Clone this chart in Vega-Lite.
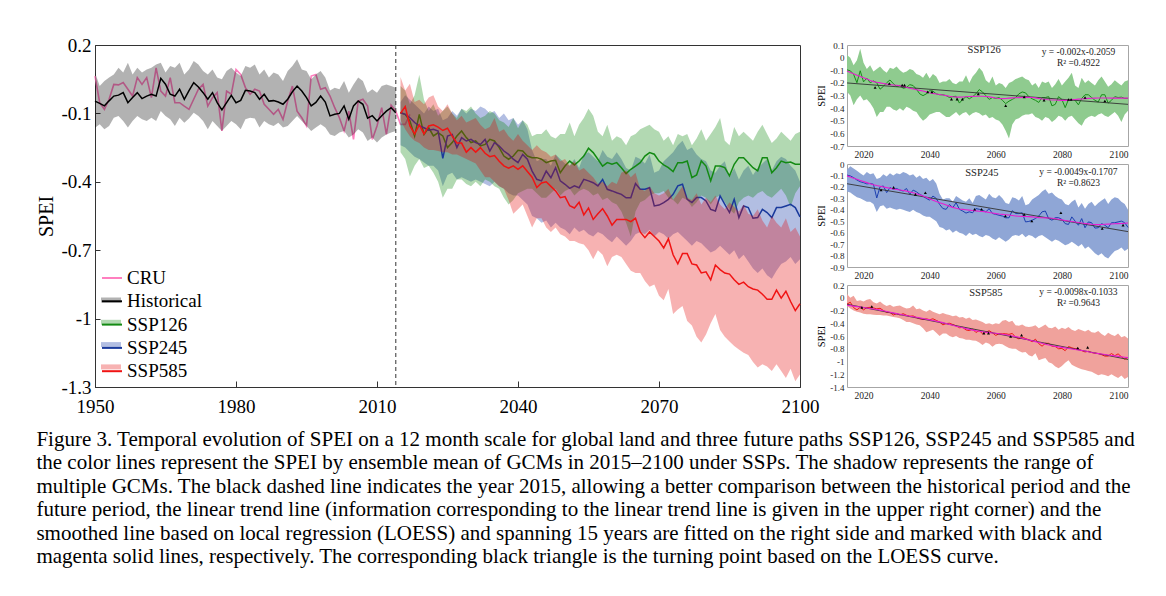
{
"$schema": "https://vega.github.io/schema/vega-lite/v6.json",
"background": "white",
"padding": {"left": 36, "top": 35, "right": 5, "bottom": 5},
"bounds": "flush",
"spacing": 47,
"config": {"font": "Liberation Serif", "axis": {"grid": false, "labelFont": "Liberation Serif", "titleFont": "Liberation Serif", "labelColor": "#000", "titleColor": "#000", "titleFontWeight": "normal", "domainColor": "#333", "tickColor": "#333", "labelOverlap": false}, "legend": {"labelFont": "Liberation Serif", "titleFont": "Liberation Serif"}},
"title": {"text": ["Figure 3. Temporal evolution of SPEI on a 12 month scale for global land and three future paths SSP126, SSP245 and SSP585 and", "the color lines represent the SPEI by ensemble mean of GCMs in 2015–2100 under SSPs. The shadow represents the range of", "multiple GCMs. The black dashed line indicates the year 2015, allowing a better comparison between the historical period and the", "future period, the linear trend line (information corresponding to the linear trend line is given in the upper right corner) and the", "smoothed line based on local regression (LOESS) and spanning 15 years are fitted on the right side and marked with black and", "magenta solid lines, respectively. The corresponding black triangle is the turning point based on the LOESS curve."], "orient": "bottom", "anchor": "start", "font": "Liberation Serif", "fontSize": 21, "fontWeight": "normal", "lineHeight": 23.5, "offset": 12, "color": "#000"},
"datasets": {
"hist": [
{"year":1950,"mean":-0.046,"lo":-0.163,"hi":0.079},{"year":1951,"mean":-0.056,"lo":-0.148,"hi":0.02},{"year":1952,"mean":-0.067,"lo":-0.17,"hi":0.042},{"year":1953,"mean":-0.045,"lo":-0.155,"hi":0.057},{"year":1954,"mean":-0.024,"lo":-0.119,"hi":0.071},{"year":1955,"mean":-0.02,"lo":-0.111,"hi":0.1},{"year":1956,"mean":-0.009,"lo":-0.133,"hi":0.079},{"year":1957,"mean":-0.053,"lo":-0.162,"hi":0.122},{"year":1958,"mean":-0.03,"lo":-0.133,"hi":0.071},{"year":1959,"mean":-0.009,"lo":-0.111,"hi":0.1},
{"year":1960,"mean":-0.035,"lo":-0.126,"hi":0.079},{"year":1961,"mean":-0.024,"lo":-0.133,"hi":0.093},{"year":1962,"mean":-0.016,"lo":-0.119,"hi":0.1},{"year":1963,"mean":-0.024,"lo":-0.133,"hi":0.115},{"year":1964,"mean":0.054,"lo":-0.09,"hi":0.122},{"year":1965,"mean":0.028,"lo":-0.111,"hi":0.079},{"year":1966,"mean":-0.016,"lo":-0.126,"hi":0.108},{"year":1967,"mean":-0.024,"lo":-0.155,"hi":0.1},{"year":1968,"mean":0.006,"lo":-0.119,"hi":0.122},{"year":1969,"mean":-0.038,"lo":-0.141,"hi":0.071},
{"year":1970,"mean":0.0,"lo":-0.122,"hi":0.093},{"year":1971,"mean":0.035,"lo":-0.097,"hi":0.13},{"year":1972,"mean":0.016,"lo":-0.111,"hi":0.115},{"year":1973,"mean":-0.009,"lo":-0.133,"hi":0.086},{"year":1974,"mean":-0.038,"lo":-0.17,"hi":0.071},{"year":1975,"mean":-0.009,"lo":-0.133,"hi":0.093},{"year":1976,"mean":-0.053,"lo":-0.155,"hi":0.057},{"year":1977,"mean":-0.085,"lo":-0.177,"hi":0.05},{"year":1978,"mean":-0.053,"lo":-0.155,"hi":0.086},{"year":1979,"mean":-0.021,"lo":-0.133,"hi":0.1},
{"year":1980,"mean":-0.053,"lo":-0.148,"hi":0.079},{"year":1981,"mean":-0.043,"lo":-0.17,"hi":0.064},{"year":1982,"mean":0.001,"lo":-0.126,"hi":0.108},{"year":1983,"mean":-0.002,"lo":-0.119,"hi":0.1},{"year":1984,"mean":-0.009,"lo":-0.122,"hi":0.115},{"year":1985,"mean":-0.038,"lo":-0.162,"hi":0.071},{"year":1986,"mean":-0.016,"lo":-0.133,"hi":0.093},{"year":1987,"mean":-0.046,"lo":-0.148,"hi":0.057},{"year":1988,"mean":-0.044,"lo":-0.155,"hi":0.079},{"year":1989,"mean":-0.05,"lo":-0.141,"hi":0.071},
{"year":1990,"mean":-0.06,"lo":-0.162,"hi":0.042},{"year":1991,"mean":-0.038,"lo":-0.155,"hi":0.086},{"year":1992,"mean":-0.005,"lo":-0.133,"hi":0.108},{"year":1993,"mean":0.02,"lo":-0.111,"hi":0.137},{"year":1994,"mean":-0.002,"lo":-0.133,"hi":0.093},{"year":1995,"mean":-0.031,"lo":-0.155,"hi":0.086},{"year":1996,"mean":-0.067,"lo":-0.177,"hi":0.05},{"year":1997,"mean":-0.052,"lo":-0.162,"hi":0.071},{"year":1998,"mean":-0.024,"lo":-0.148,"hi":0.086},{"year":1999,"mean":-0.05,"lo":-0.162,"hi":0.057},
{"year":2000,"mean":-0.111,"lo":-0.192,"hi":0.0},{"year":2001,"mean":-0.104,"lo":-0.199,"hi":0.013},{"year":2002,"mean":-0.1,"lo":-0.184,"hi":0.006},{"year":2003,"mean":-0.067,"lo":-0.177,"hi":0.042},{"year":2004,"mean":-0.126,"lo":-0.206,"hi":-0.009},{"year":2005,"mean":-0.067,"lo":-0.192,"hi":0.027},{"year":2006,"mean":-0.046,"lo":-0.17,"hi":0.057},{"year":2007,"mean":-0.06,"lo":-0.184,"hi":0.042},{"year":2008,"mean":-0.121,"lo":-0.221,"hi":-0.009},{"year":2009,"mean":-0.11,"lo":-0.206,"hi":0.006},
{"year":2010,"mean":-0.133,"lo":-0.228,"hi":-0.009},{"year":2011,"mean":-0.11,"lo":-0.206,"hi":0.02},{"year":2012,"mean":-0.09,"lo":-0.192,"hi":0.027},{"year":2013,"mean":-0.075,"lo":-0.184,"hi":0.02},{"year":2014,"mean":-0.097,"lo":-0.177,"hi":0.013}
],
"cru": [
{"year":1950,"spei":0.064},{"year":1951,"spei":-0.053},{"year":1952,"spei":-0.082},{"year":1953,"spei":-0.038},{"year":1954,"spei":0.027},{"year":1955,"spei":0.025},{"year":1956,"spei":0.035},{"year":1957,"spei":0.006},{"year":1958,"spei":-0.024},{"year":1959,"spei":0.057},
{"year":1960,"spei":0.027},{"year":1961,"spei":0.057},{"year":1962,"spei":-0.031},{"year":1963,"spei":0.1},{"year":1964,"spei":-0.002},{"year":1965,"spei":-0.024},{"year":1966,"spei":0.057},{"year":1967,"spei":-0.053},{"year":1968,"spei":-0.053},{"year":1969,"spei":-0.068},
{"year":1970,"spei":-0.082},{"year":1971,"spei":-0.038},{"year":1972,"spei":0.006},{"year":1973,"spei":0.027},{"year":1974,"spei":-0.068},{"year":1975,"spei":-0.031},{"year":1976,"spei":-0.009},{"year":1977,"spei":-0.177},{"year":1978,"spei":-0.002},{"year":1979,"spei":-0.016},
{"year":1980,"spei":0.093},{"year":1981,"spei":0.071},{"year":1982,"spei":0.013},{"year":1983,"spei":-0.016},{"year":1984,"spei":0.006},{"year":1985,"spei":-0.002},{"year":1986,"spei":-0.06},{"year":1987,"spei":-0.082},{"year":1988,"spei":-0.104},{"year":1989,"spei":-0.082},
{"year":1990,"spei":-0.126},{"year":1991,"spei":-0.046},{"year":1992,"spei":0.02},{"year":1993,"spei":-0.09},{"year":1994,"spei":-0.119},{"year":1995,"spei":-0.155},{"year":1996,"spei":0.064},{"year":1997,"spei":0.071},{"year":1998,"spei":0.006},{"year":1999,"spei":0.013},
{"year":2000,"spei":-0.024},{"year":2001,"spei":-0.075},{"year":2002,"spei":-0.119},{"year":2003,"spei":-0.177},{"year":2004,"spei":-0.09},{"year":2005,"spei":-0.214},{"year":2006,"spei":-0.046},{"year":2007,"spei":-0.038},{"year":2008,"spei":-0.068},{"year":2009,"spei":-0.214},
{"year":2010,"spei":-0.155},{"year":2011,"spei":-0.075},{"year":2012,"spei":-0.192},{"year":2013,"spei":-0.064},{"year":2014,"spei":-0.09},{"year":2015,"spei":-0.148},{"year":2016,"spei":-0.148},{"year":2017,"spei":-0.104}
],
"ssp": [
{"series":"SSP126","year":2015,"mean":-0.097,"lo":-0.27,"hi":0.02},{"series":"SSP126","year":2016,"mean":-0.104,"lo":-0.3,"hi":0.0},{"series":"SSP126","year":2017,"mean":-0.133,"lo":-0.377,"hi":-0.06},{"series":"SSP126","year":2018,"mean":-0.199,"lo":-0.33,"hi":-0.02},{"series":"SSP126","year":2019,"mean":-0.104,"lo":-0.3,"hi":0.07},{"series":"SSP126","year":2020,"mean":-0.192,"lo":-0.34,"hi":-0.04},{"series":"SSP126","year":2021,"mean":-0.163,"lo":-0.33,"hi":-0.09},{"series":"SSP126","year":2022,"mean":-0.199,"lo":-0.36,"hi":-0.06},{"series":"SSP126","year":2023,"mean":-0.185,"lo":-0.4,"hi":-0.11},{"series":"SSP126","year":2024,"mean":-0.199,"lo":-0.47,"hi":-0.09},
{"series":"SSP126","year":2025,"mean":-0.25,"lo":-0.43,"hi":-0.07},{"series":"SSP126","year":2026,"mean":-0.228,"lo":-0.43,"hi":-0.1},{"series":"SSP126","year":2027,"mean":-0.199,"lo":-0.39,"hi":-0.12},{"series":"SSP126","year":2028,"mean":-0.177,"lo":-0.39,"hi":-0.08},{"series":"SSP126","year":2029,"mean":-0.206,"lo":-0.41,"hi":-0.09},{"series":"SSP126","year":2030,"mean":-0.228,"lo":-0.42,"hi":-0.07},{"series":"SSP126","year":2031,"mean":-0.221,"lo":-0.4,"hi":-0.1},{"series":"SSP126","year":2032,"mean":-0.243,"lo":-0.42,"hi":-0.12},{"series":"SSP126","year":2033,"mean":-0.236,"lo":-0.39,"hi":-0.11},{"series":"SSP126","year":2034,"mean":-0.214,"lo":-0.4,"hi":-0.09},
{"series":"SSP126","year":2035,"mean":-0.221,"lo":-0.42,"hi":-0.1},{"series":"SSP126","year":2036,"mean":-0.25,"lo":-0.43,"hi":-0.13},{"series":"SSP126","year":2037,"mean":-0.287,"lo":-0.47,"hi":-0.14},{"series":"SSP126","year":2038,"mean":-0.301,"lo":-0.5,"hi":-0.16},{"series":"SSP126","year":2039,"mean":-0.287,"lo":-0.48,"hi":-0.12},{"series":"SSP126","year":2040,"mean":-0.262,"lo":-0.45,"hi":-0.165},{"series":"SSP126","year":2041,"mean":-0.265,"lo":-0.44,"hi":-0.13},{"series":"SSP126","year":2042,"mean":-0.287,"lo":-0.43,"hi":-0.15},{"series":"SSP126","year":2043,"mean":-0.294,"lo":-0.43,"hi":-0.2},{"series":"SSP126","year":2044,"mean":-0.294,"lo":-0.45,"hi":-0.19},
{"series":"SSP126","year":2045,"mean":-0.301,"lo":-0.47,"hi":-0.19},{"series":"SSP126","year":2046,"mean":-0.316,"lo":-0.47,"hi":-0.17},{"series":"SSP126","year":2047,"mean":-0.309,"lo":-0.45,"hi":-0.2},{"series":"SSP126","year":2048,"mean":-0.306,"lo":-0.43,"hi":-0.21},{"series":"SSP126","year":2049,"mean":-0.36,"lo":-0.46,"hi":-0.19},{"series":"SSP126","year":2050,"mean":-0.331,"lo":-0.44,"hi":-0.19},{"series":"SSP126","year":2051,"mean":-0.309,"lo":-0.43,"hi":-0.14},{"series":"SSP126","year":2052,"mean":-0.326,"lo":-0.46,"hi":-0.2},{"series":"SSP126","year":2053,"mean":-0.309,"lo":-0.44,"hi":-0.15},{"series":"SSP126","year":2054,"mean":-0.287,"lo":-0.43,"hi":-0.12},
{"series":"SSP126","year":2055,"mean":-0.253,"lo":-0.44,"hi":-0.08},{"series":"SSP126","year":2056,"mean":-0.272,"lo":-0.46,"hi":-0.11},{"series":"SSP126","year":2057,"mean":-0.301,"lo":-0.45,"hi":-0.18},{"series":"SSP126","year":2058,"mean":-0.331,"lo":-0.48,"hi":-0.2},{"series":"SSP126","year":2059,"mean":-0.316,"lo":-0.47,"hi":-0.15},{"series":"SSP126","year":2060,"mean":-0.323,"lo":-0.49,"hi":-0.22},{"series":"SSP126","year":2061,"mean":-0.316,"lo":-0.5,"hi":-0.2},{"series":"SSP126","year":2062,"mean":-0.338,"lo":-0.53,"hi":-0.21},{"series":"SSP126","year":2063,"mean":-0.364,"lo":-0.58,"hi":-0.24},{"series":"SSP126","year":2064,"mean":-0.345,"lo":-0.64,"hi":-0.2},
{"series":"SSP126","year":2065,"mean":-0.331,"lo":-0.53,"hi":-0.19},{"series":"SSP126","year":2066,"mean":-0.316,"lo":-0.49,"hi":-0.17},{"series":"SSP126","year":2067,"mean":-0.287,"lo":-0.48,"hi":-0.16},{"series":"SSP126","year":2068,"mean":-0.272,"lo":-0.46,"hi":-0.15},{"series":"SSP126","year":2069,"mean":-0.279,"lo":-0.45,"hi":-0.17},{"series":"SSP126","year":2070,"mean":-0.309,"lo":-0.45,"hi":-0.18},{"series":"SSP126","year":2071,"mean":-0.326,"lo":-0.44,"hi":-0.22},{"series":"SSP126","year":2072,"mean":-0.338,"lo":-0.47,"hi":-0.2},{"series":"SSP126","year":2073,"mean":-0.355,"lo":-0.48,"hi":-0.24},{"series":"SSP126","year":2074,"mean":-0.316,"lo":-0.5,"hi":-0.19},
{"series":"SSP126","year":2075,"mean":-0.316,"lo":-0.47,"hi":-0.2},{"series":"SSP126","year":2076,"mean":-0.309,"lo":-0.48,"hi":-0.19},{"series":"SSP126","year":2077,"mean":-0.382,"lo":-0.51,"hi":-0.24},{"series":"SSP126","year":2078,"mean":-0.37,"lo":-0.49,"hi":-0.21},{"series":"SSP126","year":2079,"mean":-0.309,"lo":-0.46,"hi":-0.17},{"series":"SSP126","year":2080,"mean":-0.331,"lo":-0.47,"hi":-0.22},{"series":"SSP126","year":2081,"mean":-0.396,"lo":-0.5,"hi":-0.19},{"series":"SSP126","year":2082,"mean":-0.331,"lo":-0.47,"hi":-0.16},{"series":"SSP126","year":2083,"mean":-0.331,"lo":-0.46,"hi":-0.12},{"series":"SSP126","year":2084,"mean":-0.338,"lo":-0.49,"hi":-0.22},
{"series":"SSP126","year":2085,"mean":-0.374,"lo":-0.52,"hi":-0.24},{"series":"SSP126","year":2086,"mean":-0.323,"lo":-0.54,"hi":-0.16},{"series":"SSP126","year":2087,"mean":-0.294,"lo":-0.49,"hi":-0.2},{"series":"SSP126","year":2088,"mean":-0.294,"lo":-0.47,"hi":-0.18},{"series":"SSP126","year":2089,"mean":-0.316,"lo":-0.46,"hi":-0.2},{"series":"SSP126","year":2090,"mean":-0.338,"lo":-0.47,"hi":-0.22},{"series":"SSP126","year":2091,"mean":-0.352,"lo":-0.45,"hi":-0.18},{"series":"SSP126","year":2092,"mean":-0.294,"lo":-0.44,"hi":-0.15},{"series":"SSP126","year":2093,"mean":-0.294,"lo":-0.46,"hi":-0.19},{"series":"SSP126","year":2094,"mean":-0.36,"lo":-0.47,"hi":-0.23},
{"series":"SSP126","year":2095,"mean":-0.338,"lo":-0.45,"hi":-0.21},{"series":"SSP126","year":2096,"mean":-0.309,"lo":-0.43,"hi":-0.18},{"series":"SSP126","year":2097,"mean":-0.316,"lo":-0.46,"hi":-0.2},{"series":"SSP126","year":2098,"mean":-0.313,"lo":-0.51,"hi":-0.22},{"series":"SSP126","year":2099,"mean":-0.323,"lo":-0.45,"hi":-0.19},{"series":"SSP126","year":2100,"mean":-0.323,"lo":-0.42,"hi":-0.18},
{"series":"SSP245","year":2015,"mean":-0.097,"lo":-0.24,"hi":-0.05},{"series":"SSP245","year":2016,"mean":-0.104,"lo":-0.25,"hi":-0.02},{"series":"SSP245","year":2017,"mean":-0.119,"lo":-0.27,"hi":-0.04},{"series":"SSP245","year":2018,"mean":-0.14,"lo":-0.29,"hi":-0.06},{"series":"SSP245","year":2019,"mean":-0.155,"lo":-0.3,"hi":-0.08},{"series":"SSP245","year":2020,"mean":-0.163,"lo":-0.315,"hi":-0.1},{"series":"SSP245","year":2021,"mean":-0.174,"lo":-0.33,"hi":-0.07},{"series":"SSP245","year":2022,"mean":-0.17,"lo":-0.33,"hi":-0.09},{"series":"SSP245","year":2023,"mean":-0.177,"lo":-0.35,"hi":-0.08},{"series":"SSP245","year":2024,"mean":-0.297,"lo":-0.42,"hi":-0.13},
{"series":"SSP245","year":2025,"mean":-0.199,"lo":-0.37,"hi":-0.12},{"series":"SSP245","year":2026,"mean":-0.192,"lo":-0.36,"hi":-0.09},{"series":"SSP245","year":2027,"mean":-0.25,"lo":-0.39,"hi":-0.11},{"series":"SSP245","year":2028,"mean":-0.206,"lo":-0.38,"hi":-0.08},{"series":"SSP245","year":2029,"mean":-0.221,"lo":-0.39,"hi":-0.1},{"series":"SSP245","year":2030,"mean":-0.214,"lo":-0.4,"hi":-0.08},{"series":"SSP245","year":2031,"mean":-0.228,"lo":-0.39,"hi":-0.09},{"series":"SSP245","year":2032,"mean":-0.236,"lo":-0.4,"hi":-0.07},{"series":"SSP245","year":2033,"mean":-0.214,"lo":-0.41,"hi":-0.08},{"series":"SSP245","year":2034,"mean":-0.265,"lo":-0.42,"hi":-0.1},
{"series":"SSP245","year":2035,"mean":-0.228,"lo":-0.4,"hi":-0.09},{"series":"SSP245","year":2036,"mean":-0.243,"lo":-0.42,"hi":-0.12},{"series":"SSP245","year":2037,"mean":-0.265,"lo":-0.43,"hi":-0.1},{"series":"SSP245","year":2038,"mean":-0.28,"lo":-0.45,"hi":-0.13},{"series":"SSP245","year":2039,"mean":-0.301,"lo":-0.46,"hi":-0.12},{"series":"SSP245","year":2040,"mean":-0.316,"lo":-0.46,"hi":-0.15},{"series":"SSP245","year":2041,"mean":-0.28,"lo":-0.48,"hi":-0.13},{"series":"SSP245","year":2042,"mean":-0.301,"lo":-0.5,"hi":-0.17},{"series":"SSP245","year":2043,"mean":-0.353,"lo":-0.55,"hi":-0.26},{"series":"SSP245","year":2044,"mean":-0.389,"lo":-0.56,"hi":-0.31},
{"series":"SSP245","year":2045,"mean":-0.396,"lo":-0.58,"hi":-0.3},{"series":"SSP245","year":2046,"mean":-0.353,"lo":-0.57,"hi":-0.3},{"series":"SSP245","year":2047,"mean":-0.382,"lo":-0.6,"hi":-0.33},{"series":"SSP245","year":2048,"mean":-0.338,"lo":-0.58,"hi":-0.28},{"series":"SSP245","year":2049,"mean":-0.396,"lo":-0.6,"hi":-0.3},{"series":"SSP245","year":2050,"mean":-0.411,"lo":-0.61,"hi":-0.32},{"series":"SSP245","year":2051,"mean":-0.429,"lo":-0.63,"hi":-0.33},{"series":"SSP245","year":2052,"mean":-0.418,"lo":-0.6,"hi":-0.3},{"series":"SSP245","year":2053,"mean":-0.426,"lo":-0.62,"hi":-0.34},{"series":"SSP245","year":2054,"mean":-0.389,"lo":-0.61,"hi":-0.28},
{"series":"SSP245","year":2055,"mean":-0.396,"lo":-0.63,"hi":-0.27},{"series":"SSP245","year":2056,"mean":-0.404,"lo":-0.64,"hi":-0.29},{"series":"SSP245","year":2057,"mean":-0.418,"lo":-0.62,"hi":-0.31},{"series":"SSP245","year":2058,"mean":-0.39,"lo":-0.63,"hi":-0.26},{"series":"SSP245","year":2059,"mean":-0.433,"lo":-0.65,"hi":-0.29},{"series":"SSP245","year":2060,"mean":-0.44,"lo":-0.665,"hi":-0.3},{"series":"SSP245","year":2061,"mean":-0.448,"lo":-0.64,"hi":-0.27},{"series":"SSP245","year":2062,"mean":-0.455,"lo":-0.66,"hi":-0.3},{"series":"SSP245","year":2063,"mean":-0.47,"lo":-0.68,"hi":-0.34},{"series":"SSP245","year":2064,"mean":-0.47,"lo":-0.66,"hi":-0.35},
{"series":"SSP245","year":2065,"mean":-0.408,"lo":-0.63,"hi":-0.29},{"series":"SSP245","year":2066,"mean":-0.433,"lo":-0.62,"hi":-0.3},{"series":"SSP245","year":2067,"mean":-0.433,"lo":-0.63,"hi":-0.32},{"series":"SSP245","year":2068,"mean":-0.426,"lo":-0.61,"hi":-0.28},{"series":"SSP245","year":2069,"mean":-0.506,"lo":-0.64,"hi":-0.36},{"series":"SSP245","year":2070,"mean":-0.502,"lo":-0.62,"hi":-0.35},{"series":"SSP245","year":2071,"mean":-0.491,"lo":-0.63,"hi":-0.31},{"series":"SSP245","year":2072,"mean":-0.477,"lo":-0.65,"hi":-0.29},{"series":"SSP245","year":2073,"mean":-0.455,"lo":-0.63,"hi":-0.27},{"series":"SSP245","year":2074,"mean":-0.418,"lo":-0.62,"hi":-0.24},
{"series":"SSP245","year":2075,"mean":-0.411,"lo":-0.64,"hi":-0.22},{"series":"SSP245","year":2076,"mean":-0.477,"lo":-0.66,"hi":-0.26},{"series":"SSP245","year":2077,"mean":-0.491,"lo":-0.68,"hi":-0.25},{"series":"SSP245","year":2078,"mean":-0.469,"lo":-0.66,"hi":-0.28},{"series":"SSP245","year":2079,"mean":-0.469,"lo":-0.67,"hi":-0.3},{"series":"SSP245","year":2080,"mean":-0.484,"lo":-0.69,"hi":-0.31},{"series":"SSP245","year":2081,"mean":-0.521,"lo":-0.71,"hi":-0.35},{"series":"SSP245","year":2082,"mean":-0.528,"lo":-0.7,"hi":-0.36},{"series":"SSP245","year":2083,"mean":-0.462,"lo":-0.68,"hi":-0.33},{"series":"SSP245","year":2084,"mean":-0.499,"lo":-0.7,"hi":-0.31},
{"series":"SSP245","year":2085,"mean":-0.535,"lo":-0.72,"hi":-0.38},{"series":"SSP245","year":2086,"mean":-0.477,"lo":-0.7,"hi":-0.34},{"series":"SSP245","year":2087,"mean":-0.557,"lo":-0.74,"hi":-0.39},{"series":"SSP245","year":2088,"mean":-0.506,"lo":-0.72,"hi":-0.35},{"series":"SSP245","year":2089,"mean":-0.513,"lo":-0.75,"hi":-0.33},{"series":"SSP245","year":2090,"mean":-0.56,"lo":-0.78,"hi":-0.37},{"series":"SSP245","year":2091,"mean":-0.557,"lo":-0.8,"hi":-0.34},{"series":"SSP245","year":2092,"mean":-0.521,"lo":-0.78,"hi":-0.32},{"series":"SSP245","year":2093,"mean":-0.535,"lo":-0.81,"hi":-0.3},{"series":"SSP245","year":2094,"mean":-0.557,"lo":-0.825,"hi":-0.35},
{"series":"SSP245","year":2095,"mean":-0.513,"lo":-0.79,"hi":-0.31},{"series":"SSP245","year":2096,"mean":-0.513,"lo":-0.76,"hi":-0.29},{"series":"SSP245","year":2097,"mean":-0.506,"lo":-0.75,"hi":-0.3},{"series":"SSP245","year":2098,"mean":-0.499,"lo":-0.73,"hi":-0.33},{"series":"SSP245","year":2099,"mean":-0.513,"lo":-0.76,"hi":-0.35},{"series":"SSP245","year":2100,"mean":-0.554,"lo":-0.74,"hi":-0.4},
{"series":"SSP585","year":2015,"mean":-0.1,"lo":-0.13,"hi":0.06},{"series":"SSP585","year":2016,"mean":-0.07,"lo":-0.17,"hi":0.0},{"series":"SSP585","year":2017,"mean":-0.155,"lo":-0.2,"hi":0.03},{"series":"SSP585","year":2018,"mean":-0.19,"lo":-0.22,"hi":-0.05},{"series":"SSP585","year":2019,"mean":-0.15,"lo":-0.23,"hi":-0.04},{"series":"SSP585","year":2020,"mean":-0.19,"lo":-0.25,"hi":-0.06},{"series":"SSP585","year":2021,"mean":-0.155,"lo":-0.26,"hi":-0.03},{"series":"SSP585","year":2022,"mean":-0.15,"lo":-0.26,"hi":-0.02},{"series":"SSP585","year":2023,"mean":-0.16,"lo":-0.265,"hi":-0.07},{"series":"SSP585","year":2024,"mean":-0.175,"lo":-0.27,"hi":-0.09},
{"series":"SSP585","year":2025,"mean":-0.165,"lo":-0.27,"hi":-0.06},{"series":"SSP585","year":2026,"mean":-0.2,"lo":-0.28,"hi":-0.1},{"series":"SSP585","year":2027,"mean":-0.23,"lo":-0.28,"hi":-0.13},{"series":"SSP585","year":2028,"mean":-0.23,"lo":-0.29,"hi":-0.11},{"series":"SSP585","year":2029,"mean":-0.27,"lo":-0.3,"hi":-0.14},{"series":"SSP585","year":2030,"mean":-0.25,"lo":-0.31,"hi":-0.13},{"series":"SSP585","year":2031,"mean":-0.27,"lo":-0.32,"hi":-0.12},{"series":"SSP585","year":2032,"mean":-0.25,"lo":-0.35,"hi":-0.15},{"series":"SSP585","year":2033,"mean":-0.275,"lo":-0.38,"hi":-0.17},{"series":"SSP585","year":2034,"mean":-0.29,"lo":-0.38,"hi":-0.16},
{"series":"SSP585","year":2035,"mean":-0.285,"lo":-0.4,"hi":-0.12},{"series":"SSP585","year":2036,"mean":-0.31,"lo":-0.42,"hi":-0.18},{"series":"SSP585","year":2037,"mean":-0.33,"lo":-0.43,"hi":-0.17},{"series":"SSP585","year":2038,"mean":-0.34,"lo":-0.48,"hi":-0.2},{"series":"SSP585","year":2039,"mean":-0.33,"lo":-0.54,"hi":-0.22},{"series":"SSP585","year":2040,"mean":-0.345,"lo":-0.52,"hi":-0.19},{"series":"SSP585","year":2041,"mean":-0.33,"lo":-0.5,"hi":-0.22},{"series":"SSP585","year":2042,"mean":-0.355,"lo":-0.55,"hi":-0.24},{"series":"SSP585","year":2043,"mean":-0.38,"lo":-0.6,"hi":-0.26},{"series":"SSP585","year":2044,"mean":-0.425,"lo":-0.56,"hi":-0.24},
{"series":"SSP585","year":2045,"mean":-0.405,"lo":-0.56,"hi":-0.26},{"series":"SSP585","year":2046,"mean":-0.4,"lo":-0.6,"hi":-0.27},{"series":"SSP585","year":2047,"mean":-0.42,"lo":-0.62,"hi":-0.29},{"series":"SSP585","year":2048,"mean":-0.44,"lo":-0.6,"hi":-0.28},{"series":"SSP585","year":2049,"mean":-0.47,"lo":-0.63,"hi":-0.31},{"series":"SSP585","year":2050,"mean":-0.465,"lo":-0.64,"hi":-0.3},{"series":"SSP585","year":2051,"mean":-0.505,"lo":-0.66,"hi":-0.33},{"series":"SSP585","year":2052,"mean":-0.515,"lo":-0.66,"hi":-0.31},{"series":"SSP585","year":2053,"mean":-0.49,"lo":-0.67,"hi":-0.35},{"series":"SSP585","year":2054,"mean":-0.545,"lo":-0.675,"hi":-0.34},
{"series":"SSP585","year":2055,"mean":-0.515,"lo":-0.7,"hi":-0.36},{"series":"SSP585","year":2056,"mean":-0.565,"lo":-0.74,"hi":-0.38},{"series":"SSP585","year":2057,"mean":-0.54,"lo":-0.7,"hi":-0.41},{"series":"SSP585","year":2058,"mean":-0.518,"lo":-0.72,"hi":-0.4},{"series":"SSP585","year":2059,"mean":-0.55,"lo":-0.77,"hi":-0.42},{"series":"SSP585","year":2060,"mean":-0.59,"lo":-0.73,"hi":-0.4},{"series":"SSP585","year":2061,"mean":-0.565,"lo":-0.72,"hi":-0.41},{"series":"SSP585","year":2062,"mean":-0.565,"lo":-0.73,"hi":-0.36},{"series":"SSP585","year":2063,"mean":-0.565,"lo":-0.76,"hi":-0.35},{"series":"SSP585","year":2064,"mean":-0.575,"lo":-0.79,"hi":-0.38},
{"series":"SSP585","year":2065,"mean":-0.56,"lo":-0.8,"hi":-0.36},{"series":"SSP585","year":2066,"mean":-0.62,"lo":-0.8,"hi":-0.43},{"series":"SSP585","year":2067,"mean":-0.645,"lo":-0.835,"hi":-0.44},{"series":"SSP585","year":2068,"mean":-0.62,"lo":-0.86,"hi":-0.42},{"series":"SSP585","year":2069,"mean":-0.64,"lo":-0.85,"hi":-0.45},{"series":"SSP585","year":2070,"mean":-0.66,"lo":-0.9,"hi":-0.46},{"series":"SSP585","year":2071,"mean":-0.69,"lo":-0.92,"hi":-0.45},{"series":"SSP585","year":2072,"mean":-0.65,"lo":-0.87,"hi":-0.43},{"series":"SSP585","year":2073,"mean":-0.72,"lo":-0.98,"hi":-0.48},{"series":"SSP585","year":2074,"mean":-0.76,"lo":-0.96,"hi":-0.45},
{"series":"SSP585","year":2075,"mean":-0.715,"lo":-0.945,"hi":-0.42},{"series":"SSP585","year":2076,"mean":-0.715,"lo":-1.01,"hi":-0.47},{"series":"SSP585","year":2077,"mean":-0.76,"lo":-1.03,"hi":-0.48},{"series":"SSP585","year":2078,"mean":-0.765,"lo":-1.08,"hi":-0.45},{"series":"SSP585","year":2079,"mean":-0.8,"lo":-1.105,"hi":-0.5},{"series":"SSP585","year":2080,"mean":-0.795,"lo":-1.07,"hi":-0.47},{"series":"SSP585","year":2081,"mean":-0.83,"lo":-1.02,"hi":-0.49},{"series":"SSP585","year":2082,"mean":-0.765,"lo":-0.98,"hi":-0.46},{"series":"SSP585","year":2083,"mean":-0.785,"lo":-1.05,"hi":-0.5},{"series":"SSP585","year":2084,"mean":-0.8,"lo":-1.08,"hi":-0.52},
{"series":"SSP585","year":2085,"mean":-0.805,"lo":-1.1,"hi":-0.49},{"series":"SSP585","year":2086,"mean":-0.83,"lo":-1.12,"hi":-0.51},{"series":"SSP585","year":2087,"mean":-0.85,"lo":-1.135,"hi":-0.53},{"series":"SSP585","year":2088,"mean":-0.84,"lo":-1.15,"hi":-0.5},{"series":"SSP585","year":2089,"mean":-0.86,"lo":-1.16,"hi":-0.54},{"series":"SSP585","year":2090,"mean":-0.87,"lo":-1.19,"hi":-0.55},{"series":"SSP585","year":2091,"mean":-0.875,"lo":-1.215,"hi":-0.52},{"series":"SSP585","year":2092,"mean":-0.893,"lo":-1.2,"hi":-0.57},{"series":"SSP585","year":2093,"mean":-0.915,"lo":-1.21,"hi":-0.6},{"series":"SSP585","year":2094,"mean":-0.915,"lo":-1.23,"hi":-0.55},
{"series":"SSP585","year":2095,"mean":-0.875,"lo":-1.2,"hi":-0.58},{"series":"SSP585","year":2096,"mean":-0.91,"lo":-1.23,"hi":-0.6},{"series":"SSP585","year":2097,"mean":-0.88,"lo":-1.26,"hi":-0.56},{"series":"SSP585","year":2098,"mean":-0.925,"lo":-1.22,"hi":-0.62},{"series":"SSP585","year":2099,"mean":-0.965,"lo":-1.275,"hi":-0.6},{"series":"SSP585","year":2100,"mean":-0.935,"lo":-1.245,"hi":-0.64}
],
"turn": [
{"series":"SSP126","year":2023.5,"spei":-0.237},{"series":"SSP126","year":2027.8,"spei":-0.205},{"series":"SSP126","year":2031.7,"spei":-0.218},{"series":"SSP126","year":2032.4,"spei":-0.218},{"series":"SSP126","year":2039.4,"spei":-0.271},{"series":"SSP126","year":2040.7,"spei":-0.271},{"series":"SSP126","year":2046.6,"spei":-0.329},{"series":"SSP126","year":2048.3,"spei":-0.329},{"series":"SSP126","year":2049.9,"spei":-0.329},{"series":"SSP126","year":2054.7,"spei":-0.287},{"series":"SSP126","year":2063,"spei":-0.38},{"series":"SSP126","year":2068.6,"spei":-0.311},{"series":"SSP126","year":2074.6,"spei":-0.337},{"series":"SSP126","year":2082,"spei":-0.332},{"series":"SSP126","year":2082.8,"spei":-0.332},{"series":"SSP126","year":2087,"spei":-0.316},{"series":"SSP126","year":2093,"spei":-0.343},
{"series":"SSP245","year":2025.3,"spei":-0.227},{"series":"SSP245","year":2029.1,"spei":-0.204},{"series":"SSP245","year":2035.7,"spei":-0.265},{"series":"SSP245","year":2038.7,"spei":-0.251},{"series":"SSP245","year":2053.6,"spei":-0.396},{"series":"SSP245","year":2055.7,"spei":-0.396},{"series":"SSP245","year":2062.9,"spei":-0.455},{"series":"SSP245","year":2068.6,"spei":-0.441},{"series":"SSP245","year":2070.9,"spei":-0.498},{"series":"SSP245","year":2079.7,"spei":-0.426},{"series":"SSP245","year":2092.2,"spei":-0.563},{"series":"SSP245","year":2098.5,"spei":-0.534},
{"series":"SSP585","year":2019.5,"spei":-0.154},{"series":"SSP585","year":2022.5,"spei":-0.138},{"series":"SSP585","year":2056.4,"spei":-0.555},{"series":"SSP585","year":2057.8,"spei":-0.555},{"series":"SSP585","year":2064.5,"spei":-0.607},{"series":"SSP585","year":2067.8,"spei":-0.586},{"series":"SSP585","year":2084.8,"spei":-0.789},{"series":"SSP585","year":2087.8,"spei":-0.779}
],
"ann": [
{"series":"SSP126","eq":"y = -0.002x-0.2059","r2":"R² =0.4922"},
{"series":"SSP245","eq":"y = -0.0049x-0.1707","r2":"R² =0.8623"},
{"series":"SSP585","eq":"y = -0.0098x-0.1033","r2":"R² =0.9643"}
]
},
"hconcat": [
{
"width": 705, "height": 342,
"view": {"stroke": "#333", "strokeWidth": 1},
"encoding": {"x": {"field": "year", "type": "quantitative", "title": null, "scale": {"domain": [1950, 2100], "nice": false, "zero": false}, "axis": {"values": [1950, 1980, 2010, 2040, 2070, 2100], "format": "d", "labelFontSize": 19, "tickSize": -6, "labelPadding": 16, "labelFlush": false}}},
"layer": [
{"data": {"name": "cru"}, "mark": {"type": "line", "strokeWidth": 1.6},
 "encoding": {"y": {"field": "spei", "type": "quantitative", "title": "SPEI", "scale": {"domain": [-1.3, 0.2], "nice": false, "zero": false}, "axis": {"values": [0.2, -0.1, -0.4, -0.7, -1, -1.3], "tickCount": 20, "labelExpr": "replace(format(datum.value, '.1~f'), '\u2212', '-')", "labelFontSize": 19, "tickSize": -5, "labelPadding": 9, "titleFontSize": 20, "titlePadding": 4}},
  "stroke": {"datum": "CRU", "type": "nominal", "title": null, "scale": {"domain": ["CRU", "Historical", "SSP126", "SSP245", "SSP585"], "range": ["#ff7fbf", "#000000", "#138a13", "#1a3a9c", "#f01414"]},
   "legend": {"title": null, "orient": "none", "legendX": 6, "legendY": 222, "zindex": 2, "symbolType": "stroke", "symbolSize": 400, "symbolStrokeWidth": 2, "labelFont": "Liberation Serif", "labelFontSize": 19, "labelColor": "#000", "labelOffset": 4, "rowPadding": 2.3, "padding": 0, "labelExpr": "datum.label == 'CRU' ? '\u00a0CRU' : datum.label"}}}},
{"data": {"name": "hist"}, "mark": {"type": "area", "opacity": 0.3},
 "encoding": {"y": {"field": "lo", "type": "quantitative", "title": "SPEI"}, "y2": {"field": "hi"},
  "fill": {"datum": "Historical", "type": "nominal", "title": null, "scale": {"domain": ["Historical", "SSP126", "SSP245", "SSP585"], "range": ["#000000", "#008000", "#0028a0", "#e60000"]},
   "legend": {"title": null, "orient": "none", "legendX": 6, "legendY": 245, "zindex": 1, "symbolType": "M-1,-0.25H1V0.25H-1Z", "symbolSize": 400, "symbolStrokeWidth": 0, "labelFont": "Liberation Serif", "labelFontSize": 19, "labelOffset": 4, "rowPadding": 2.3, "padding": 0, "labelExpr": "''"}}}},
{"data": {"name": "hist"}, "mark": {"type": "line", "strokeWidth": 1.5},
 "encoding": {"y": {"field": "mean", "type": "quantitative", "title": "SPEI"}, "stroke": {"datum": "Historical", "type": "nominal", "title": null}}},
{"data": {"name": "ssp"}, "transform": [{"filter": "datum.series == 'SSP245'"}], "mark": {"type": "area", "opacity": 0.3},
 "encoding": {"y": {"field": "lo", "type": "quantitative", "title": "SPEI"}, "y2": {"field": "hi"}, "fill": {"field": "series", "type": "nominal", "title": null}}},
{"data": {"name": "ssp"}, "transform": [{"filter": "datum.series == 'SSP126'"}], "mark": {"type": "area", "opacity": 0.3},
 "encoding": {"y": {"field": "lo", "type": "quantitative", "title": "SPEI"}, "y2": {"field": "hi"}, "fill": {"field": "series", "type": "nominal", "title": null}}},
{"data": {"name": "ssp"}, "transform": [{"filter": "datum.series == 'SSP126'"}], "mark": {"type": "line", "strokeWidth": 1.5},
 "encoding": {"y": {"field": "mean", "type": "quantitative", "title": "SPEI"}, "stroke": {"field": "series", "type": "nominal", "title": null}}},
{"data": {"name": "ssp"}, "transform": [{"filter": "datum.series == 'SSP245'"}], "mark": {"type": "line", "strokeWidth": 1.5},
 "encoding": {"y": {"field": "mean", "type": "quantitative", "title": "SPEI"}, "stroke": {"field": "series", "type": "nominal", "title": null}}},
{"data": {"name": "ssp"}, "transform": [{"filter": "datum.series == 'SSP585'"}], "mark": {"type": "area", "opacity": 0.3},
 "encoding": {"y": {"field": "lo", "type": "quantitative", "title": "SPEI"}, "y2": {"field": "hi"}, "fill": {"field": "series", "type": "nominal", "title": null}}},
{"data": {"name": "ssp"}, "transform": [{"filter": "datum.series == 'SSP585'"}], "mark": {"type": "line", "strokeWidth": 1.5},
 "encoding": {"y": {"field": "mean", "type": "quantitative", "title": "SPEI"}, "stroke": {"field": "series", "type": "nominal", "title": null}}},
{"data": {"name": "hist"}, "transform": [{"filter": "datum.year == 2014"}], "mark": {"type": "rule", "strokeDash": [4, 3], "color": "#333", "strokeWidth": 1},
 "encoding": {"x": {"field": "year", "type": "quantitative"}}}
]
},
{
"vconcat": [
{
"width": 281, "height": 101,
"view": {"stroke": "#a6a6a6"},
"layer": [
{"data": {"name": "ssp"}, "transform": [{"filter": "datum.series == 'SSP126'"}], "mark": {"type": "area", "color": "#8fcb8f"},
 "encoding": {"x": {"field": "year", "type": "quantitative", "title": null, "scale": {"domain": [2015, 2100], "nice": false, "zero": false}, "axis": {"values": [2020, 2040, 2060, 2080, 2100], "tickCount": 20, "format": "d", "labelFontSize": 9.5, "labelColor": "#222", "ticks": false, "domain": false, "labelPadding": 3}},
  "y": {"field": "lo", "type": "quantitative", "title": "SPEI", "scale": {"domain": [-0.7, 0.1], "nice": false, "zero": false}, "axis": {"values": [0.1, 0, -0.1, -0.2, -0.3, -0.4, -0.5, -0.6, -0.7], "tickCount": 20, "labelExpr": "replace(format(datum.value, '.1~f'), '\u2212', '-')", "labelOverlap": false, "labelFontSize": 9, "labelColor": "#222", "ticks": false, "domain": false, "labelPadding": 3, "titleFontSize": 10.5, "titlePadding": 3}}, "y2": {"field": "hi"}}},
{"data": {"name": "ssp"}, "transform": [{"filter": "datum.series == 'SSP126'"}], "mark": {"type": "line", "color": "#169016", "strokeWidth": 1},
 "encoding": {"x": {"field": "year", "type": "quantitative"}, "y": {"field": "mean", "type": "quantitative", "title": "SPEI"}}},
{"data": {"name": "ssp"}, "transform": [{"filter": "datum.series == 'SSP126'"}, {"regression": "mean", "on": "year"}], "mark": {"type": "line", "color": "#333", "strokeWidth": 0.9},
 "encoding": {"x": {"field": "year", "type": "quantitative"}, "y": {"field": "mean", "type": "quantitative", "title": "SPEI"}}},
{"data": {"name": "ssp"}, "transform": [{"filter": "datum.series == 'SSP126'"}, {"loess": "mean", "on": "year", "bandwidth": 0.2}], "mark": {"type": "line", "color": "#e81ed0", "strokeWidth": 1.1},
 "encoding": {"x": {"field": "year", "type": "quantitative"}, "y": {"field": "mean", "type": "quantitative", "title": "SPEI"}}},
{"data": {"name": "turn"}, "transform": [{"filter": "datum.series == 'SSP126'"}], "mark": {"type": "point", "shape": "triangle-up", "filled": true, "color": "#000", "size": 9, "opacity": 1},
 "encoding": {"x": {"field": "year", "type": "quantitative"}, "y": {"field": "spei", "type": "quantitative", "title": "SPEI"}}},
{"data": {"name": "ann"}, "transform": [{"filter": "datum.series == 'SSP126'"}], "mark": {"type": "text", "font": "Liberation Serif", "fontSize": 10.5, "color": "#222", "baseline": "middle"},
 "encoding": {"x": {"datum": 2056.5, "type": "quantitative"}, "y": {"datum": 0.06, "type": "quantitative"}, "text": {"field": "series", "type": "nominal"}}},
{"data": {"name": "ann"}, "transform": [{"filter": "datum.series == 'SSP126'"}], "mark": {"type": "text", "font": "Liberation Serif", "fontSize": 9.5, "color": "#222", "baseline": "middle"},
 "encoding": {"x": {"datum": 2085, "type": "quantitative"}, "y": {"datum": 0.047, "type": "quantitative"}, "text": {"field": "eq", "type": "nominal"}}},
{"data": {"name": "ann"}, "transform": [{"filter": "datum.series == 'SSP126'"}], "mark": {"type": "text", "font": "Liberation Serif", "fontSize": 9.5, "color": "#222", "baseline": "middle"},
 "encoding": {"x": {"datum": 2085, "type": "quantitative"}, "y": {"datum": -0.045, "type": "quantitative"}, "text": {"field": "r2", "type": "nominal"}}}
]
},
{
"width": 281, "height": 103,
"view": {"stroke": "#a6a6a6"},
"layer": [
{"data": {"name": "ssp"}, "transform": [{"filter": "datum.series == 'SSP245'"}], "mark": {"type": "area", "color": "#8fa6d6"},
 "encoding": {"x": {"field": "year", "type": "quantitative", "title": null, "scale": {"domain": [2015, 2100], "nice": false, "zero": false}, "axis": {"values": [2020, 2040, 2060, 2080, 2100], "tickCount": 20, "format": "d", "labelFontSize": 9.5, "labelColor": "#222", "ticks": false, "domain": false, "labelPadding": 3}},
  "y": {"field": "lo", "type": "quantitative", "title": "SPEI", "scale": {"domain": [-0.9, 0], "nice": false, "zero": false}, "axis": {"values": [0, -0.1, -0.2, -0.3, -0.4, -0.5, -0.6, -0.7, -0.8, -0.9], "tickCount": 20, "labelExpr": "replace(format(datum.value, '.1~f'), '\u2212', '-')", "labelOverlap": false, "labelFontSize": 9, "labelColor": "#222", "ticks": false, "domain": false, "labelPadding": 3, "titleFontSize": 10.5, "titlePadding": 3}}, "y2": {"field": "hi"}}},
{"data": {"name": "ssp"}, "transform": [{"filter": "datum.series == 'SSP245'"}], "mark": {"type": "line", "color": "#1c3fb0", "strokeWidth": 1},
 "encoding": {"x": {"field": "year", "type": "quantitative"}, "y": {"field": "mean", "type": "quantitative", "title": "SPEI"}}},
{"data": {"name": "ssp"}, "transform": [{"filter": "datum.series == 'SSP245'"}, {"regression": "mean", "on": "year"}], "mark": {"type": "line", "color": "#333", "strokeWidth": 0.9},
 "encoding": {"x": {"field": "year", "type": "quantitative"}, "y": {"field": "mean", "type": "quantitative", "title": "SPEI"}}},
{"data": {"name": "ssp"}, "transform": [{"filter": "datum.series == 'SSP245'"}, {"loess": "mean", "on": "year", "bandwidth": 0.2}], "mark": {"type": "line", "color": "#e81ed0", "strokeWidth": 1.1},
 "encoding": {"x": {"field": "year", "type": "quantitative"}, "y": {"field": "mean", "type": "quantitative", "title": "SPEI"}}},
{"data": {"name": "turn"}, "transform": [{"filter": "datum.series == 'SSP245'"}], "mark": {"type": "point", "shape": "triangle-up", "filled": true, "color": "#000", "size": 9, "opacity": 1},
 "encoding": {"x": {"field": "year", "type": "quantitative"}, "y": {"field": "spei", "type": "quantitative", "title": "SPEI"}}},
{"data": {"name": "ann"}, "transform": [{"filter": "datum.series == 'SSP245'"}], "mark": {"type": "text", "font": "Liberation Serif", "fontSize": 10.5, "color": "#222", "baseline": "middle"},
 "encoding": {"x": {"datum": 2055.8, "type": "quantitative"}, "y": {"datum": -0.076, "type": "quantitative"}, "text": {"field": "series", "type": "nominal"}}},
{"data": {"name": "ann"}, "transform": [{"filter": "datum.series == 'SSP245'"}], "mark": {"type": "text", "font": "Liberation Serif", "fontSize": 9.5, "color": "#222", "baseline": "middle"},
 "encoding": {"x": {"datum": 2085, "type": "quantitative"}, "y": {"datum": -0.067, "type": "quantitative"}, "text": {"field": "eq", "type": "nominal"}}},
{"data": {"name": "ann"}, "transform": [{"filter": "datum.series == 'SSP245'"}], "mark": {"type": "text", "font": "Liberation Serif", "fontSize": 9.5, "color": "#222", "baseline": "middle"},
 "encoding": {"x": {"datum": 2085, "type": "quantitative"}, "y": {"datum": -0.163, "type": "quantitative"}, "text": {"field": "r2", "type": "nominal"}}}
]
},
{
"width": 281, "height": 102,
"view": {"stroke": "#a6a6a6"},
"layer": [
{"data": {"name": "ssp"}, "transform": [{"filter": "datum.series == 'SSP585'"}], "mark": {"type": "area", "color": "#f0a29c"},
 "encoding": {"x": {"field": "year", "type": "quantitative", "title": null, "scale": {"domain": [2015, 2100], "nice": false, "zero": false}, "axis": {"values": [2020, 2040, 2060, 2080, 2100], "tickCount": 20, "format": "d", "labelFontSize": 9.5, "labelColor": "#222", "ticks": false, "domain": false, "labelPadding": 3}},
  "y": {"field": "lo", "type": "quantitative", "title": "SPEI", "scale": {"domain": [-1.4, 0.2], "nice": false, "zero": false}, "axis": {"values": [0.2, 0, -0.2, -0.4, -0.6, -0.8, -1, -1.2, -1.4], "tickCount": 20, "labelExpr": "replace(format(datum.value, '.1~f'), '\u2212', '-')", "labelOverlap": false, "labelFontSize": 9, "labelColor": "#222", "ticks": false, "domain": false, "labelPadding": 3, "titleFontSize": 10.5, "titlePadding": 3}}, "y2": {"field": "hi"}}},
{"data": {"name": "ssp"}, "transform": [{"filter": "datum.series == 'SSP585'"}], "mark": {"type": "line", "color": "#f01414", "strokeWidth": 1},
 "encoding": {"x": {"field": "year", "type": "quantitative"}, "y": {"field": "mean", "type": "quantitative", "title": "SPEI"}}},
{"data": {"name": "ssp"}, "transform": [{"filter": "datum.series == 'SSP585'"}, {"regression": "mean", "on": "year"}], "mark": {"type": "line", "color": "#333", "strokeWidth": 0.9},
 "encoding": {"x": {"field": "year", "type": "quantitative"}, "y": {"field": "mean", "type": "quantitative", "title": "SPEI"}}},
{"data": {"name": "ssp"}, "transform": [{"filter": "datum.series == 'SSP585'"}, {"loess": "mean", "on": "year", "bandwidth": 0.2}], "mark": {"type": "line", "color": "#e81ed0", "strokeWidth": 1.1},
 "encoding": {"x": {"field": "year", "type": "quantitative"}, "y": {"field": "mean", "type": "quantitative", "title": "SPEI"}}},
{"data": {"name": "turn"}, "transform": [{"filter": "datum.series == 'SSP585'"}], "mark": {"type": "point", "shape": "triangle-up", "filled": true, "color": "#000", "size": 9, "opacity": 1},
 "encoding": {"x": {"field": "year", "type": "quantitative"}, "y": {"field": "spei", "type": "quantitative", "title": "SPEI"}}},
{"data": {"name": "ann"}, "transform": [{"filter": "datum.series == 'SSP585'"}], "mark": {"type": "text", "font": "Liberation Serif", "fontSize": 10.5, "color": "#222", "baseline": "middle"},
 "encoding": {"x": {"datum": 2057, "type": "quantitative"}, "y": {"datum": 0.081, "type": "quantitative"}, "text": {"field": "series", "type": "nominal"}}},
{"data": {"name": "ann"}, "transform": [{"filter": "datum.series == 'SSP585'"}], "mark": {"type": "text", "font": "Liberation Serif", "fontSize": 9.5, "color": "#222", "baseline": "middle"},
 "encoding": {"x": {"datum": 2085, "type": "quantitative"}, "y": {"datum": 0.09, "type": "quantitative"}, "text": {"field": "eq", "type": "nominal"}}},
{"data": {"name": "ann"}, "transform": [{"filter": "datum.series == 'SSP585'"}], "mark": {"type": "text", "font": "Liberation Serif", "fontSize": 9.5, "color": "#222", "baseline": "middle"},
 "encoding": {"x": {"datum": 2085, "type": "quantitative"}, "y": {"datum": -0.086, "type": "quantitative"}, "text": {"field": "r2", "type": "nominal"}}}
]
}
],
"spacing": 18,
"bounds": "flush"
}
]
}
